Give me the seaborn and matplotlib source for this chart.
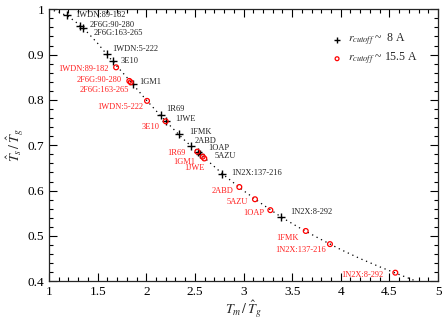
import matplotlib
matplotlib.use("Agg")
import matplotlib.pyplot as plt
import seaborn as sns
import pandas as pd

# ---- data ----
names8 = ["1WDN:89-182", "2F6G:90-280", "2F6G:163-265", "1WDN:5-222", "3E10", "1GM1",
          "1R69", "1JWE", "1FMK", "2ABD", "1OAP", "5AZU", "1N2X:137-216", "1N2X:8-292"]
x8 = [1.18, 1.32, 1.346, 1.593, 1.655, 1.86, 2.149, 2.203, 2.337, 2.46, 2.53, 2.553, 2.776, 3.386]
y8 = [0.987, 0.964, 0.958, 0.901, 0.886, 0.835, 0.766, 0.753, 0.725, 0.698, 0.685, 0.681, 0.636, 0.542]

names15 = ["1WDN:89-182", "2F6G:90-280", "2F6G:163-265", "1WDN:5-222", "3E10", "1R69",
           "1GM1", "1JWE", "2ABD", "5AZU", "1OAP", "1FMK", "1N2X:137-216", "1N2X:8-292"]
x15 = [1.69, 1.826, 1.84, 2.008, 2.2, 2.525, 2.58, 2.597, 2.957, 3.118, 3.276, 3.64, 3.889, 4.561]
y15 = [0.872, 0.842, 0.839, 0.798, 0.753, 0.686, 0.675, 0.671, 0.608, 0.581, 0.557, 0.511, 0.482, 0.419]

curve_x = [1.0, 1.1, 1.2, 1.3, 1.4, 1.5, 1.6, 1.7, 1.8, 1.9, 2.0, 2.2, 2.4, 2.6, 2.8, 3.0,
           3.2, 3.4, 3.6, 3.8, 4.0, 4.2, 4.4, 4.6, 4.78]
curve_y = [1.0, 0.994, 0.984, 0.968, 0.948, 0.925, 0.899, 0.874, 0.850, 0.825, 0.800, 0.753,
           0.710, 0.672, 0.634, 0.600, 0.569, 0.540, 0.515, 0.492, 0.470, 0.450, 0.432, 0.415, 0.400]

legend_labels = [r"$r_{cutoff}$ ~  8 A", r"$r_{cutoff}$ ~ 15.5 A"]

# label offsets in pixels (dx, dy; y up)
off8 = [(9, 0), (9, 1), (11, -5), (6, 5), (8, 0), (7, 2), (6, 6), (9, 2), (10, 2), (4, 5),
        (10, 4), (15, -2), (10, 1), (9, 5)]
off15 = [(-7, -2), (-8, 1), (-2, -8), (-4, -6), (-6, -6), (-12, -1), (-7, -5), (0, -10),
         (-6, -4), (-7, -3), (-6, -3), (-7, -7), (-4, -6), (-12, -2)]

sns.set_style("ticks")
plt.rcParams["font.family"] = ["Liberation Serif", "DejaVu Serif"]
plt.rcParams["mathtext.fontset"] = "stix"

fig = plt.figure(figsize=(4.47, 3.19), dpi=100)
ax = fig.add_axes([49 / 447, 1 - 281.3 / 319, (438 - 49) / 447, (281.3 - 9.3) / 319])

df_curve = pd.DataFrame({"x": curve_x, "y": curve_y})
sns.lineplot(data=df_curve, x="x", y="y", ax=ax, color="black", linestyle=(0, (1, 3)),
             linewidth=0.9, sort=False, estimator=None)

df8 = pd.DataFrame({"x": x8, "y": y8})
df15 = pd.DataFrame({"x": x15, "y": y15})
sns.scatterplot(data=df8, x="x", y="y", ax=ax, marker="+", color="black", s=26,
                linewidth=1.0, label=legend_labels[0], zorder=3)
sns.scatterplot(data=df15, x="x", y="y", ax=ax, marker="o", facecolor="none",
                edgecolor="red", s=12, linewidth=0.9, label=legend_labels[1], zorder=4)

for n, x, y, (dx, dy) in zip(names8, x8, y8, off8):
    ax.annotate(n, (x, y), xytext=(dx, dy), textcoords="offset pixels", ha="left",
                va="center", fontsize=6, color="#222222")
for n, x, y, (dx, dy) in zip(names15, x15, y15, off15):
    ax.annotate(n, (x, y), xytext=(dx, dy), textcoords="offset pixels", ha="right",
                va="center", fontsize=6, color="#ff2020")

ax.set_xlim(1, 5)
ax.set_ylim(0.4, 1.0)
ax.set_xticks([1, 1.5, 2, 2.5, 3, 3.5, 4, 4.5, 5])
ax.set_xticklabels(["1", "1.5", "2", "2.5", "3", "3.5", "4", "4.5", "5"])
ax.set_yticks([0.4, 0.5, 0.6, 0.7, 0.8, 0.9, 1.0])
ax.set_yticklabels(["0.4", "0.5", "0.6", "0.7", "0.8", "0.9", "1"])
ax.xaxis.set_minor_locator(matplotlib.ticker.MultipleLocator(0.1))
ax.yaxis.set_minor_locator(matplotlib.ticker.MultipleLocator(0.02))
ax.tick_params(which="both", direction="in", top=True, right=True, labelsize=9.5,
               colors="black", width=0.8)
ax.tick_params(which="major", length=6)
ax.tick_params(which="minor", length=3)
for s in ax.spines.values():
    s.set_linewidth(0.9)
    s.set_visible(True)

ax.set_xlabel(r"$T_m\,/\,\hat{T}_g$", fontsize=10, labelpad=0)
ax.set_ylabel(r"$\hat{T}_s\,/\,\hat{T}_g$", fontsize=10, labelpad=2)

ax.legend(loc="upper left", bbox_to_anchor=(0.695, 0.955), frameon=False, fontsize=8.5,
          handletextpad=0.3, labelspacing=0.25, handlelength=1.2, markerscale=0.8)

fig.savefig("out.png", dpi=100)
